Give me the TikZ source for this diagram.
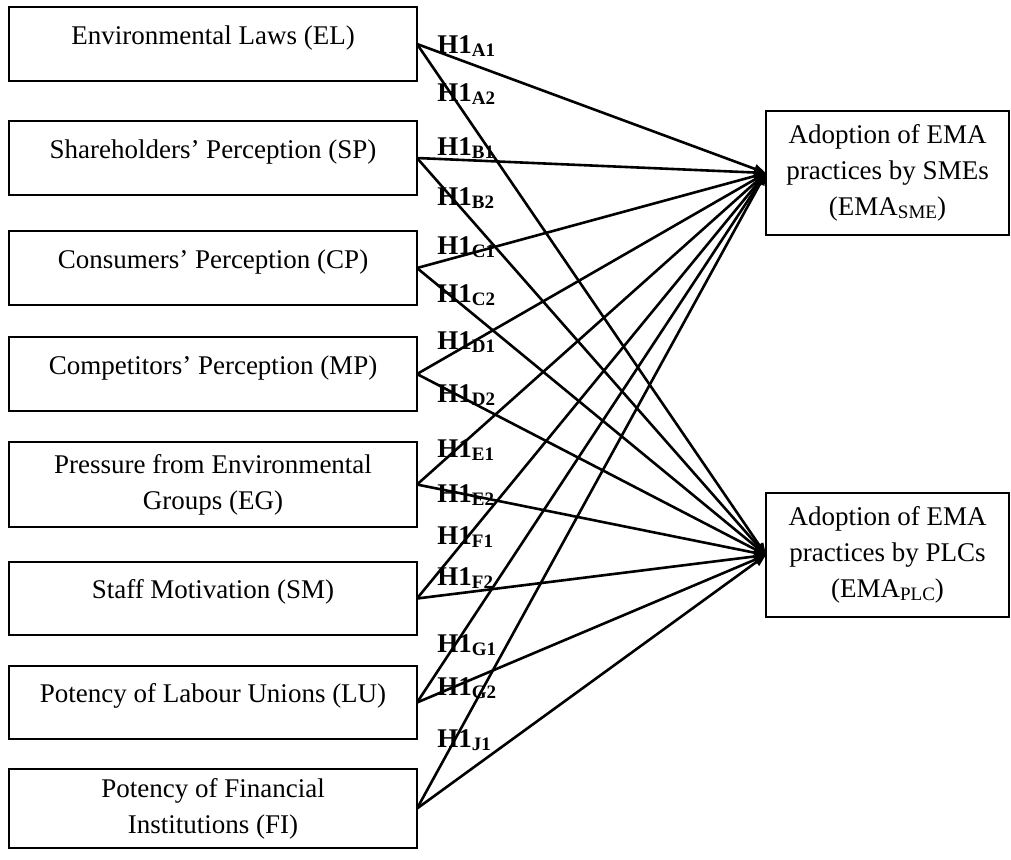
\documentclass[tikz,border=0pt]{standalone}
\usepackage{fontspec}
\setmainfont{Liberation Serif}
\usepackage{tikz}
\usetikzlibrary{
  arrows.meta,
  positioning
}
\newcommand{\lowsub}[1]{\raisebox{-1.5pt}{\fontsize{9.5}{9.5}\selectfont #1}}
\tikzset{
  factor/.style = {
    rectangle, draw=black, line width=1.3pt,
    minimum width=204pt, minimum height=#1, inner sep=0pt, outer sep=0pt,
    align=center, font=\fontsize{13.5}{18}\selectfont
  },
  factor/.default = 37pt,
  oneline/.style = {text height=10pt, text depth=10pt},
  outcome/.style = {
    rectangle, draw=black, line width=1.3pt,
    minimum width=121.5pt, minimum height=62pt, inner sep=0pt, outer sep=0pt,
    align=center, font=\fontsize{13.5}{18}\selectfont
  },
  hyp/.style = {anchor=west, inner sep=0pt,
    font=\fontsize{13.5}{16}\selectfont\bfseries},
  arr/.style = {-{Triangle[length=6pt, width=4.5pt]}, draw=black, line width=1.3pt},
}

\begin{document}
\begin{tikzpicture}[x=0.5pt, y=-0.5pt]
  \useasboundingbox (0,0) rectangle (1011,859);

  % determinants
  \node[factor, oneline] (el) at (213,44) {Environmental Laws (EL)};
  \node[factor, oneline, below=20pt of el] (sp) {Shareholders’ Perception (SP)};
  \node[factor, oneline, below=18pt of sp] (cp) {Consumers’ Perception (CP)};
  \node[factor, oneline, below=16pt of cp] (mp) {Competitors’ Perception (MP)};
  \node[factor=42.5pt, below=15.5pt of mp] (eg) {Pressure from Environmental\\Groups (EG)};
  \node[factor=36.5pt, oneline, below=17.5pt of eg] (sm) {Staff Motivation (SM)};
  \node[factor=36.5pt, oneline, below=15.5pt of sm] (lu) {Potency of Labour Unions (LU)};
  \node[factor=39.5pt, below=15pt of lu] (fi) {Potency of Financial\\Institutions (FI)};

  % outcomes
  \node[outcome] (sme) at (887.5,173) {Adoption of EMA\\practices by SMEs\\(EMA\lowsub{SME})};
  \node[outcome] (plc) at (887.5,555) {Adoption of EMA\\practices by PLCs\\(EMA\lowsub{PLC})};

  % hypotheses
  \node[hyp] (ha1) at (437,46)  {H1\lowsub{A1}};
  \node[hyp] (ha2) at (437,94)  {H1\lowsub{A2}};
  \node[hyp] (hb1) at (437,148) {H1\lowsub{B1}};
  \node[hyp] (hb2) at (437,198) {H1\lowsub{B2}};
  \node[hyp] (hc1) at (437,247) {H1\lowsub{C1}};
  \node[hyp] (hc2) at (437,295) {H1\lowsub{C2}};
  \node[hyp] (hd1) at (437,342) {H1\lowsub{D1}};
  \node[hyp] (hd2) at (437,395) {H1\lowsub{D2}};
  \node[hyp] (he1) at (437,450) {H1\lowsub{E1}};
  \node[hyp] (he2) at (437,495) {H1\lowsub{E2}};
  \node[hyp] (hf1) at (437,537) {H1\lowsub{F1}};
  \node[hyp] (hf2) at (437,578) {H1\lowsub{F2}};
  \node[hyp] (hg1) at (437,645) {H1\lowsub{G1}};
  \node[hyp] (hg2) at (437,688) {H1\lowsub{G2}};
  \node[hyp] (hj1) at (437,740) {H1\lowsub{J1}};

  \draw[arr] (el.east) -- (sme.west);
  \draw[arr] (el.east) -- (plc.west);
  \draw[arr] (sp.east) -- (sme.west);
  \draw[arr] (sp.east) -- (plc.west);
  \draw[arr] (cp.east) -- (sme.west);
  \draw[arr] (cp.east) -- (plc.west);
  \draw[arr] (mp.east) -- (sme.west);
  \draw[arr] (mp.east) -- (plc.west);
  \draw[arr] (eg.east) -- (sme.west);
  \draw[arr] (eg.east) -- (plc.west);
  \draw[arr] (sm.east) -- (sme.west);
  \draw[arr] (sm.east) -- (plc.west);
  \draw[arr] (lu.east) -- (sme.west);
  \draw[arr] (lu.east) -- (plc.west);
  \draw[arr] (fi.east) -- (sme.west);
  \draw[arr] (fi.east) -- (plc.west);

\end{tikzpicture}
\end{document}
